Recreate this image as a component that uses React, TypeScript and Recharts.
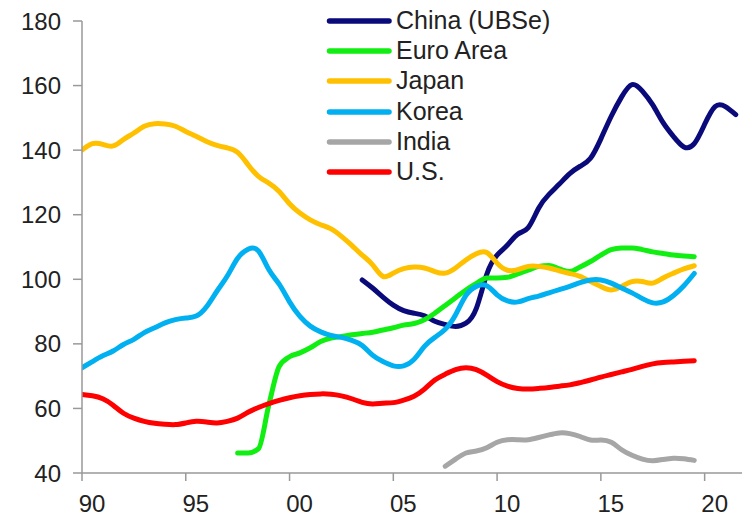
import React from 'react';
import { LineChart, Line, XAxis, YAxis, Legend } from 'recharts';

// half-year grid shared by every series
const years = [
  1990, 1990.5, 1991, 1991.5, 1992, 1992.5, 1993, 1993.5, 1994, 1994.5,
  1995, 1995.5, 1996, 1996.5, 1997, 1997.5, 1998, 1998.5, 1999, 1999.5,
  2000, 2000.5, 2001, 2001.5, 2002, 2002.5, 2003, 2003.5, 2004, 2004.5,
  2005, 2005.5, 2006, 2006.5, 2007, 2007.5, 2008, 2008.5, 2009, 2009.5,
  2010, 2010.5, 2011, 2011.5, 2012, 2012.5, 2013, 2013.5, 2014, 2014.5,
  2015, 2015.5, 2016, 2016.5, 2017, 2017.5, 2018, 2018.5, 2019, 2019.5,
  2020, 2020.5, 2021, 2021.5,
];

const xTicks = [1990, 1995, 2000, 2005, 2010, 2015, 2020];
const yTicks = [40, 60, 80, 100, 120, 140, 160, 180];

// China (UBSe), from 2003.5
const china = [
  99.8, 97.3, 94.5, 92, 90.3, 89.5, 88.7, 87, 86, 85.4,
  86.4, 91, 101.5, 107.5, 110.6, 114, 116, 122, 126.3, 129.5,
  132.7, 135, 137.5, 143.5, 150.5, 156.5, 160.3, 158.3, 154, 148.5,
  144.2, 141, 142, 148, 153.5, 153.5, 151,
];

// Euro Area, from 1997.5
const euro = [
  46.2, 46.2, 47.5, 61, 73, 76, 77.2, 78.8, 80.7, 81.8,
  82.3, 82.8, 83.2, 83.6, 84.3, 85, 85.8, 86.3, 87.5, 89.5,
  91.9, 94.3, 96.7, 98.7, 100.4, 100.4, 100.6, 101.7, 102.8, 104,
  104.3, 103.2, 102.4, 103.8, 105.5, 107.5, 109.2, 109.7, 109.7, 109.2,
  108.5, 108, 107.5, 107.2, 107,
];

// Japan, from 1990
const japan = [
  140, 142, 141.8, 141.3, 143.3, 145.3, 147.4, 148.2, 148.1, 147.4,
  145.8, 144.3, 142.7, 141.5, 140.7, 139.3, 135.5, 131.9, 129.8, 127.2,
  123.4, 120.5, 118.4, 116.9, 115.6, 113.3, 110.5, 107.5, 104.5, 100.9,
  101.9, 103.3, 103.8, 103.5, 102.4, 101.9, 103.5, 106, 107.9, 108.3,
  105, 102.8, 103, 104, 104, 103.5, 102.6, 101.8, 100.9, 99.3,
  97.8, 96.7, 97.8, 99.3, 99.3, 98.8, 100.4, 101.9, 103.2, 104.2,
];

// Korea, from 1990
const korea = [
  72.6, 74.5, 76.3, 77.8, 79.8, 81.4, 83.5, 85, 86.5, 87.5,
  88, 88.6, 91.5, 96.3, 101, 106.5, 109.3, 108.8, 103, 98.5,
  93, 88.5, 85.5, 83.7, 82.6, 82, 81.1, 79.5, 76.5, 74.5,
  73.2, 73.2, 75.2, 79.2, 82, 84.5, 89, 95, 97.8, 98,
  95.2, 93.3, 93, 94, 94.8, 95.8, 96.8, 97.8, 99, 99.8,
  99.8, 98.8, 97.3, 95.8, 94, 92.7, 93, 95, 98, 101.8,
];

// India, from 2007.5
const india = [
  42.1, 44.3, 46.2, 46.8, 47.8, 49.5, 50.3, 50.3, 50.3, 51,
  51.8, 52.4, 52.2, 51.3, 50.2, 50.2, 49.5, 47.2, 45.5, 44.3,
  43.8, 44.2, 44.6, 44.4, 43.9,
];

// U.S., from 1990
const us = [
  64.3, 63.9, 63, 61, 58.5, 57, 56, 55.4, 55.1, 55,
  55.5, 56, 55.8, 55.5, 56, 57, 58.8, 60.3, 61.5, 62.5,
  63.3, 63.9, 64.3, 64.5, 64.4, 63.9, 63, 61.9, 61.4, 61.6,
  61.8, 62.6, 63.8, 66, 68.8, 70.6, 72, 72.6, 72, 70.3,
  68.3, 66.9, 66.2, 66, 66.2, 66.5, 66.9, 67.3, 68, 68.8,
  69.7, 70.5, 71.3, 72.1, 73, 73.8, 74.2, 74.4, 74.6, 74.8,
];

// euro keeps monotone so the late-90s jump doesn't overshoot
const SERIES = [
  { key: 'china', name: 'China (UBSe)', color: '#0A0A7A', start: 2003.5, values: china, curve: 'natural' },
  { key: 'euro', name: 'Euro Area', color: '#11EE11', start: 1997.5, values: euro, curve: 'monotone' },
  { key: 'japan', name: 'Japan', color: '#FFC000', start: 1990, values: japan, curve: 'natural' },
  { key: 'korea', name: 'Korea', color: '#00B0F0', start: 1990, values: korea, curve: 'natural' },
  { key: 'india', name: 'India', color: '#A6A6A6', start: 2007.5, values: india, curve: 'natural' },
  { key: 'us', name: 'U.S.', color: '#FF0000', start: 1990, values: us, curve: 'natural' },
];

const data = years.map((year, i) => {
  const row: Record<string, number | null> = { year };
  SERIES.forEach(s => {
    const j = i - years.indexOf(s.start);
    row[s.key] = j >= 0 && j < s.values.length ? s.values[j] : null;
  });
  return row;
});

const AXIS = '#999999';
const TEXT = '#222222';

const renderLegend = () => (
  <div>
    {SERIES.map(s => (
      <div key={s.key} style={{ display: 'flex', alignItems: 'center', height: 30.3 }}>
        <svg width={72} height={30} style={{ flexShrink: 0 }}>
          <line x1={5.5} y1={15} x2={65} y2={15} stroke={s.color} strokeWidth={5.5} strokeLinecap="round" />
        </svg>
        <span style={{ fontSize: 25, color: TEXT, lineHeight: '30px', position: 'relative', top: -1, whiteSpace: 'nowrap' }}>
          {s.name}
        </span>
      </div>
    ))}
  </div>
);

export default function App() {
  return (
    <div style={{ position: 'absolute', left: 0, top: 0, width: 742, height: 516, background: '#fff', fontFamily: '"Liberation Sans", Arial, sans-serif' }}>
      <LineChart width={742} height={516} data={data} margin={{ top: 21, right: 0, bottom: 0, left: 0 }}>
        <XAxis
          dataKey="year"
          type="number"
          domain={[1990, 2021.8]}
          ticks={xTicks}
          allowDataOverflow
          tickFormatter={(y: number) => String(y % 100).padStart(2, '0')}
          tick={{ fontSize: 24, fill: TEXT, dx: 10 }}
          tickSize={8}
          tickMargin={14}
          height={43}
          axisLine={{ stroke: AXIS, strokeWidth: 1.5 }}
          tickLine={{ stroke: AXIS, strokeWidth: 1.5 }}
        />
        <YAxis
          domain={[40, 180]}
          ticks={yTicks}
          allowDataOverflow
          tick={{ fontSize: 24, fill: TEXT }}
          tickSize={9}
          tickMargin={12}
          width={82}
          axisLine={{ stroke: AXIS, strokeWidth: 1.5 }}
          tickLine={{ stroke: AXIS, strokeWidth: 1.5 }}
        />
        <Legend
          content={renderLegend}
          layout="vertical"
          align="center"
          verticalAlign="middle"
          wrapperStyle={{ top: 5.5, left: 324, width: 260 }}
        />
        {SERIES.map(s => (
          <Line
            key={s.key}
            dataKey={s.key}
            name={s.name}
            type={s.curve as any}
            stroke={s.color}
            strokeWidth={5}
            strokeLinecap="round"
            strokeLinejoin="round"
            dot={false}
            activeDot={false}
            isAnimationActive={false}
          />
        ))}
      </LineChart>
    </div>
  );
}
